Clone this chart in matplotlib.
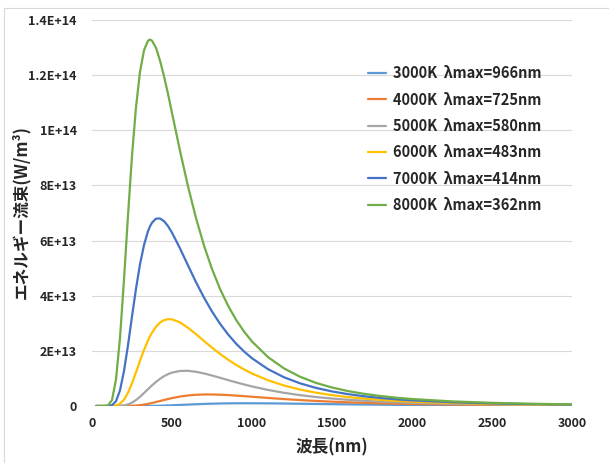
import matplotlib
matplotlib.use("Agg")
import matplotlib.pyplot as plt
from matplotlib.lines import Line2D
import numpy as np

plt.rcParams['font.family'] = ['Noto Sans CJK JP', 'DejaVu Sans']

# Wavelength samples (nm)
wavelength_nm = [25, 50, 75, 100, 125, 150, 175, 200, 225, 250, 275, 300, 325, 350, 362.5, 375,
                 400, 425, 450, 475, 500, 550, 600, 650, 700, 750, 800, 850, 900, 950, 1000,
                 1100, 1200, 1300, 1400, 1500, 1600, 1700, 1800, 1900, 2000,
                 2250, 2500, 2750, 3000]

# Spectral energy flux, in units of 1E+12 W/m^3
flux_3000K = [0, 0, 0, 0, 0, 0, 0, 0, 0, 0, 0.002, 0.006, 0.013, 0.025, 0.034, 0.045,
              0.072, 0.108, 0.152, 0.203, 0.260, 0.386, 0.518, 0.642, 0.751, 0.840, 0.908, 0.955, 0.983, 0.995, 0.992,
              0.957, 0.896, 0.822, 0.745, 0.668, 0.597, 0.531, 0.472, 0.419, 0.372,
              0.278, 0.210, 0.161, 0.124]
flux_4000K = [0, 0, 0, 0, 0, 0, 0.001, 0.006, 0.024, 0.069, 0.158, 0.304, 0.513, 0.780, 0.933, 1.096,
              1.447, 1.813, 2.182, 2.535, 2.866, 3.422, 3.826, 4.073, 4.182, 4.182, 4.099, 3.957, 3.776, 3.572, 3.356,
              2.922, 2.515, 2.151, 1.837, 1.568, 1.341, 1.150, 0.989, 0.853, 0.738,
              0.523, 0.379, 0.281, 0.212]
flux_5000K = [0, 0, 0, 0, 0, 0.007, 0.052, 0.210, 0.577, 1.223, 2.161, 3.346, 4.691, 6.098, 6.792, 7.467,
              8.744, 9.861, 10.80, 11.55, 12.11, 12.71, 12.76, 12.41, 11.81, 11.06, 10.24, 9.408, 8.595, 7.822, 7.101,
              5.832, 4.786, 3.937, 3.252, 2.699, 2.253, 1.892, 1.597, 1.356, 1.157,
              0.797, 0.564, 0.410, 0.305]
flux_6000K = [0, 0, 0, 0, 0.018, 0.177, 0.804, 2.287, 4.810, 8.243, 12.24, 16.40, 20.32, 23.78, 25.27, 26.59,
              28.76, 30.24, 31.14, 31.50, 31.43, 30.32, 28.38, 26.05, 23.58, 21.18, 18.91, 16.82, 14.95, 13.28, 11.79,
              9.331, 7.431, 5.963, 4.824, 3.934, 3.235, 2.680, 2.237, 1.880, 1.591,
              1.074, 0.750, 0.539, 0.397]
flux_7000K = [0, 0, 0, 0.014, 0.279, 1.737, 5.694, 12.68, 22.05, 32.47, 42.55, 51.38, 58.37, 63.39, 65.16, 66.49,
              67.94, 68.02, 67.04, 65.25, 62.88, 57.17, 50.98, 44.92, 39.31, 34.27, 29.85, 25.99, 22.65, 19.78, 17.31,
              13.37, 10.42, 8.226, 6.561, 5.288, 4.303, 3.533, 2.925, 2.441, 2.053,
              1.369, 0.941, 0.674, 0.493]
flux_8000K = [0, 0, 0.002, 0.182, 2.179, 9.638, 24.72, 45.83, 69.10, 90.77, 108.4, 121.2, 129.0, 132.5, 132.9, 132.5,
              129.9, 125.3, 119.6, 113.2, 106.3, 92.56, 79.67, 68.16, 58.19, 49.68, 42.48, 36.42, 31.31, 27.02, 23.39,
              17.73, 13.63, 10.62, 8.389, 6.702, 5.413, 4.416, 3.636, 3.020, 2.527,
              1.671, 1.146, 0.812, 0.591]

series_labels = ["3000K  λmax=966nm", "4000K  λmax=725nm", "5000K  λmax=580nm",
                 "6000K  λmax=483nm", "7000K  λmax=414nm", "8000K  λmax=362nm"]
series_values = [flux_3000K, flux_4000K, flux_5000K, flux_6000K, flux_7000K, flux_8000K]
series_colors = ["#5B9BD5", "#ED7D31", "#A5A5A5", "#FFC000", "#4472C4", "#70AD47"]

x_ticks = [0, 500, 1000, 1500, 2000, 2500, 3000]
y_ticks = [0, 2e13, 4e13, 6e13, 8e13, 1e14, 1.2e14, 1.4e14]
y_tick_labels = ["0", "2E+13", "4E+13", "6E+13", "8E+13", "1E+14", "1.2E+14", "1.4E+14"]

W, H = 609, 463
fig = plt.figure(figsize=(W / 100, H / 100), dpi=100)
ax = fig.add_axes([92 / W, 1 - 406 / H, 480 / W, 386 / H])

unit = 1e12
lam = np.asarray(wavelength_nm, dtype=float)
for vals, lab, col in zip(series_values, series_labels, series_colors):
    ax.plot(lam, np.asarray(vals) * unit, color=col, lw=1.6, label=lab,
            solid_joinstyle='round', solid_capstyle='round')

ax.set_xlim(0, 3000)
ax.set_ylim(0, 1.4e14)

bold = dict(fontweight='bold', color='#262626')
ax.set_xticks(x_ticks)
ax.set_xticklabels([str(v) for v in x_ticks], fontsize=9, **bold)
ax.set_yticks(y_ticks)
ax.set_yticklabels(y_tick_labels, fontsize=9, **bold)
ax.tick_params(axis='both', length=0)
ax.tick_params(axis='y', pad=11)
ax.tick_params(axis='x', pad=8)

ax.grid(axis='y', color='#D9D9D9', lw=0.8)
ax.set_axisbelow(True)
for s in ax.spines.values():
    s.set_visible(False)

fig.text(332 / W, 1 - 447 / H, "波長(nm)", ha='center', va='center', fontsize=12, **bold)
fig.text(21 / W, 1 - 212 / H, "エネルギー流束(W/m³)", ha='center', va='center',
         rotation=90, fontsize=12, **bold)

leg = ax.legend(loc='upper left', bbox_to_anchor=(368 / W, 1 - 65 / H),
                bbox_transform=fig.transFigure, frameon=False, borderpad=0, borderaxespad=0,
                prop=dict(family=['Noto Sans CJK JP', 'DejaVu Sans'], weight='bold', size=10.5),
                handlelength=1.2, handletextpad=0.5, labelspacing=0.71)
for t in leg.get_texts():
    t.set_color('#262626')

# Chart area border
fig.add_artist(Line2D([4 / W, 1], [1 - 8 / H, 1 - 8 / H], color='#D9D9D9', lw=0.8))
fig.add_artist(Line2D([4 / W, 4 / W], [0, 1 - 8 / H], color='#D9D9D9', lw=0.8))

fig.savefig("out.png", dpi=100, facecolor='white')
